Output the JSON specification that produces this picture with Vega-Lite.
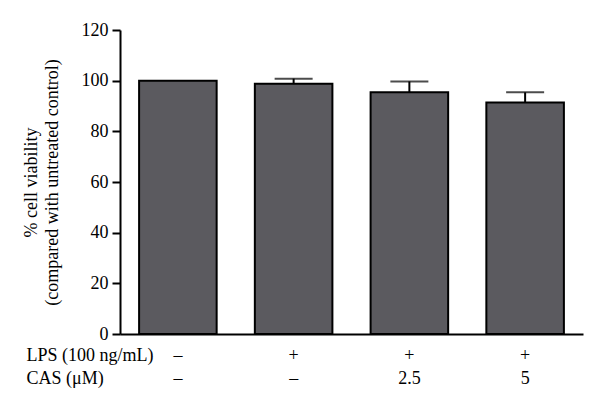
{
  "$schema": "https://vega.github.io/schema/vega-lite/v6.json",
  "width": 463,
  "height": 304,
  "autosize": "none",
  "padding": {"left": 120, "top": 30, "right": 17, "bottom": 74},
  "background": "white",
  "config": {
    "view": {"stroke": null},
    "font": "Liberation Serif",
    "axis": {"labelColor": "black", "titleColor": "black", "titleFontWeight": "normal", "domainColor": "black", "domainWidth": 2, "tickColor": "black", "tickWidth": 2, "grid": false},
    "axisY": {
      "labelFontSize": 18,
      "titleFontSize": 18,
      "tickSize": 8,
      "labelPadding": 4,
      "titleLineHeight": 21,
      "titleAngle": -90,
      "titleX": -89,
      "titleY": 152,
      "titleAlign": "center",
      "titleBaseline": "middle"
    },
    "axisX": {
      "labelFontSize": 18,
      "titleFontSize": 18,
      "ticks": false,
      "labelAngle": 0,
      "labelPadding": 12,
      "labelBaseline": "top",
      "labelLineHeight": 23,
      "labelDx": 6,
      "titleLineHeight": 23,
      "titleX": -94,
      "titleY": 12,
      "titleAlign": "left",
      "titleBaseline": "top",
      "titleAngle": 0
    }
  },
  "data": {
    "values": [
      {"grp": "–|–", "viability": 100, "upper": null},
      {"grp": "+|–", "viability": 98.8, "upper": 100.8},
      {"grp": "+|2.5", "viability": 95.4, "upper": 99.7},
      {"grp": "+|5", "viability": 91.4, "upper": 95.4}
    ]
  },
  "encoding": {
    "x": {
      "field": "grp",
      "type": "nominal",
      "sort": null,
      "scale": {"paddingInner": 0.33, "paddingOuter": 0.165},
      "title": ["LPS (100 ng/mL)", "CAS (μM)"],
      "axis": {"labelExpr": "split(datum.label, '|')"}
    }
  },
  "layer": [
    {
      "mark": {"type": "bar", "color": "#5b5a5f", "stroke": "black", "strokeWidth": 2},
      "encoding": {
        "y": {
          "field": "viability",
          "type": "quantitative",
          "scale": {"domain": [0, 120], "nice": false},
          "title": ["% cell viability", "(compared with untreated control)"],
          "axis": {"values": [0, 20, 40, 60, 80, 100, 120]}
        }
      }
    },
    {
      "transform": [{"filter": "datum.upper != null"}],
      "mark": {"type": "rule", "color": "black", "strokeWidth": 2},
      "encoding": {
        "y": {"field": "viability", "type": "quantitative", "title": ["% cell viability", "(compared with untreated control)"]},
        "y2": {"field": "upper"}
      }
    },
    {
      "transform": [{"filter": "datum.upper != null"}],
      "mark": {"type": "tick", "color": "black", "thickness": 2, "size": 38, "orient": "horizontal"},
      "encoding": {
        "y": {"field": "upper", "type": "quantitative", "title": ["% cell viability", "(compared with untreated control)"]}
      }
    }
  ]
}
